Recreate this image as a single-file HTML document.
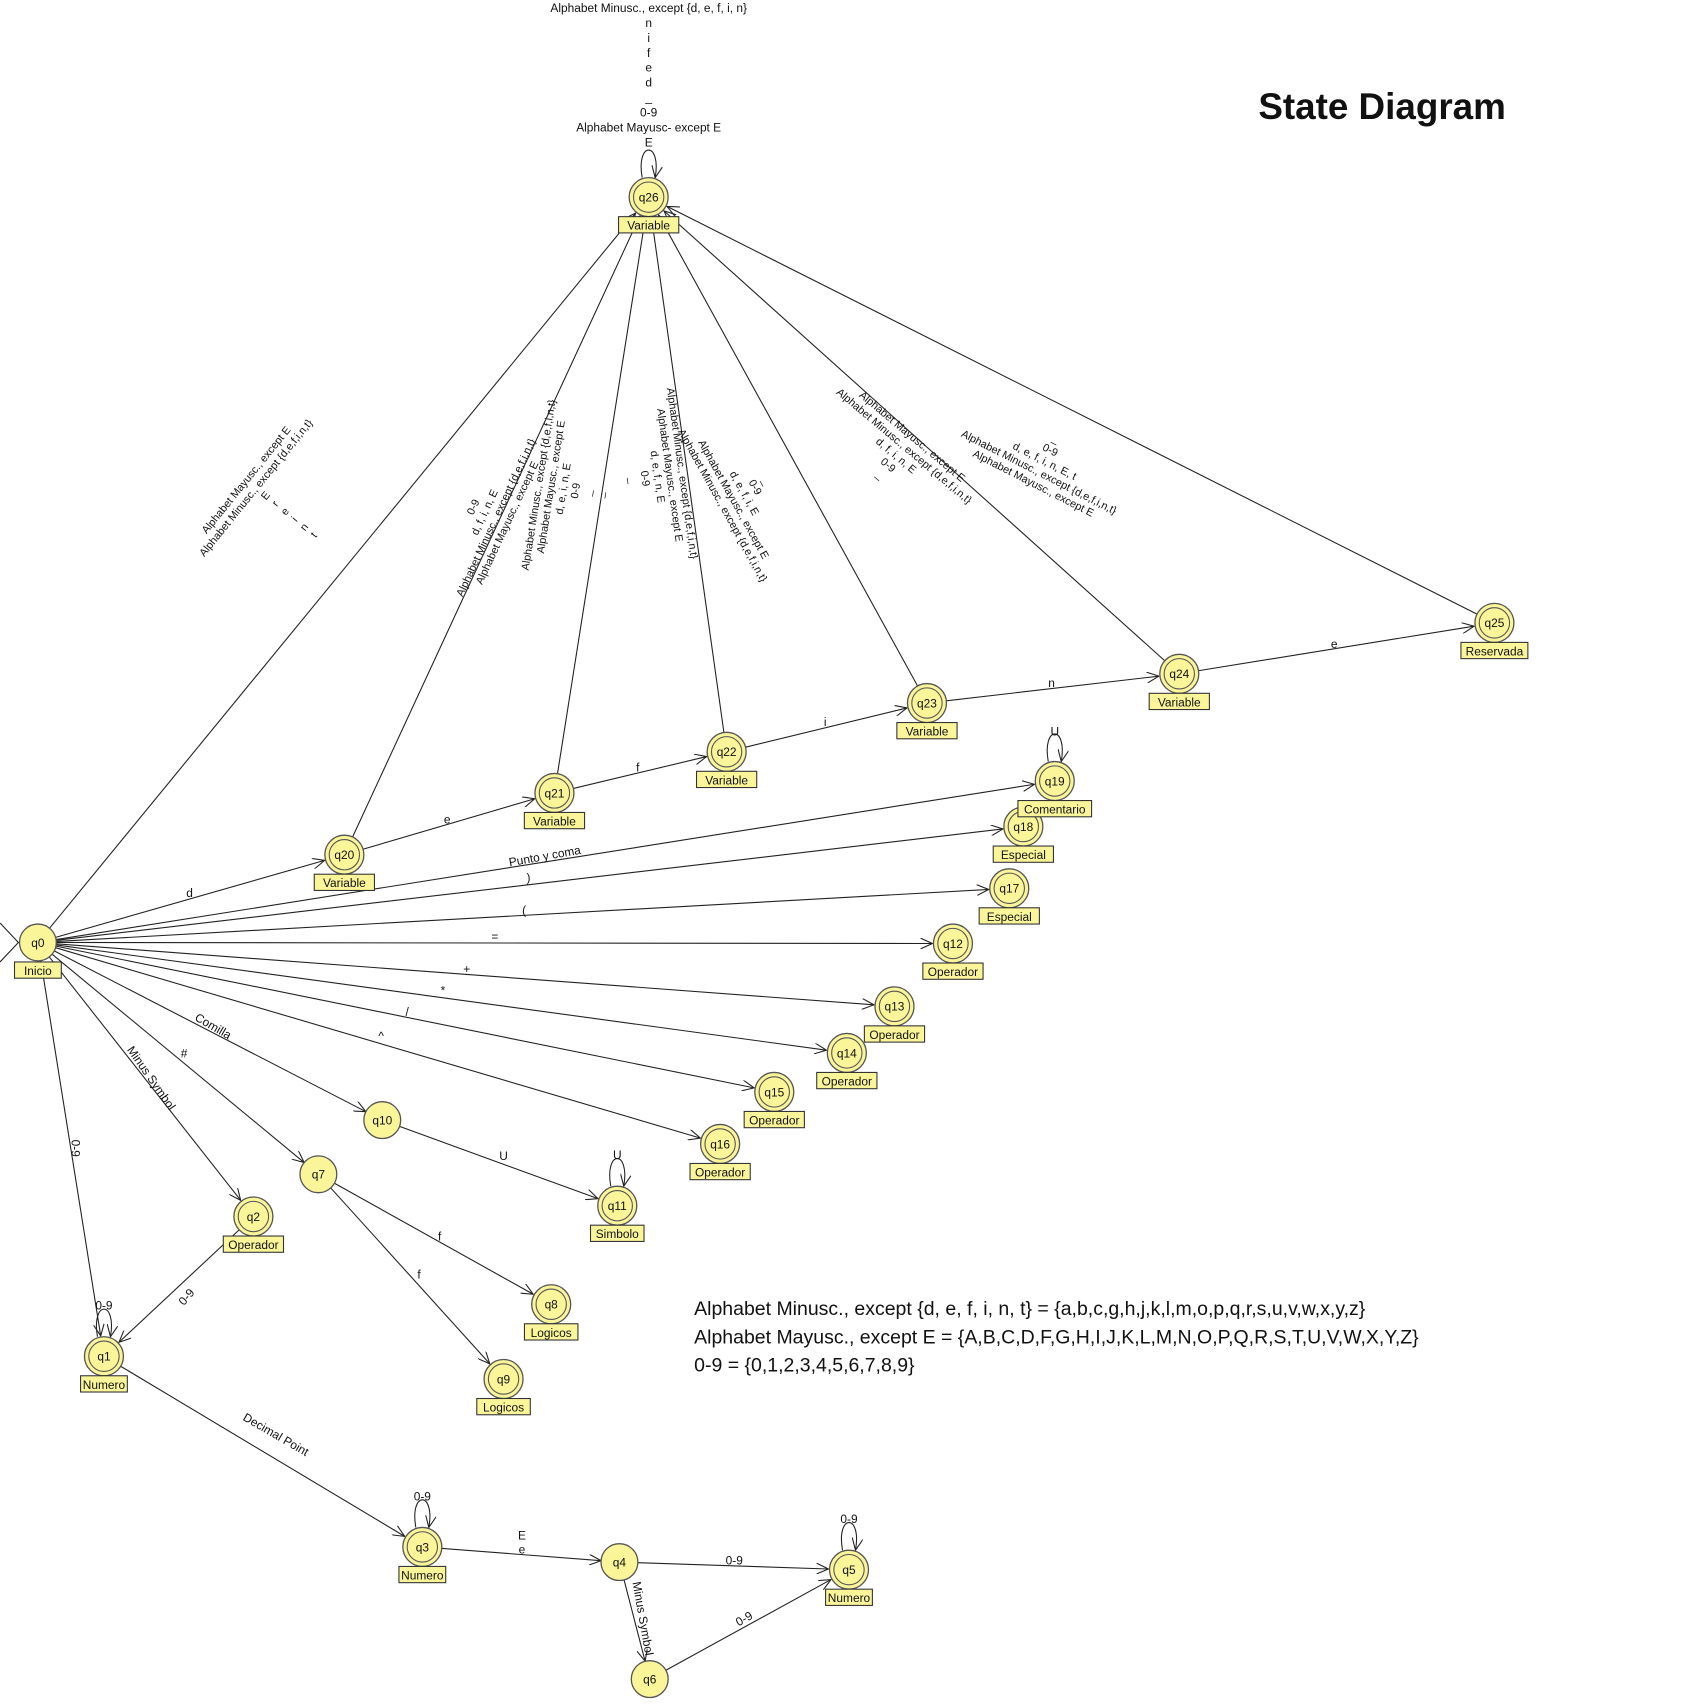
<!DOCTYPE html>
<html><head><meta charset="utf-8"><style>
html,body{margin:0;padding:0;background:#fff;}
svg{display:block;}
text{font-family:"Liberation Sans",Arial,sans-serif;fill:#111;}
</style></head><body>
<svg id="dg" width="1698" height="1704" viewBox="0 0 1568 1573" preserveAspectRatio="none" xmlns="http://www.w3.org/2000/svg">
<defs><marker id="arr" markerWidth="12" markerHeight="10" refX="11" refY="5" orient="auto" markerUnits="userSpaceOnUse"><path d="M0,0 L11,5 L0,10" fill="none" stroke="#222" stroke-width="1"/></marker></defs>
<text x="1162" y="110" font-size="34" font-weight="bold">State Diagram</text>
<g font-size="18">
<text x="641" y="1214" font-size="18">Alphabet Minusc., except {d, e, f, i, n, t} = {a,b,c,g,h,j,k,l,m,o,p,q,r,s,u,v,w,x,y,z}</text>
<text x="641" y="1240" font-size="18">Alphabet Mayusc., except E = {A,B,C,D,F,G,H,I,J,K,L,M,N,O,P,Q,R,S,T,U,V,W,X,Y,Z}</text>
<text x="641" y="1266" font-size="18">0-9 = {0,1,2,3,4,5,6,7,8,9}</text>
</g>
</svg>
<script>
const nodeIds=["q0","q1","q2","q3","q4","q5","q6","q7","q8","q9","q10","q11","q12","q13","q14","q15","q16","q17","q18","q19","q20","q21","q22","q23","q24","q25","q26"];
const nodeX=[35,96,234,390,572,784,600,294,509,465,353,570,880,826,782,715,665,932,945,974,318,512,671,856,1089,1380,599];
const nodeY=[870,1252,1123,1428,1442,1449,1550,1084,1204,1273,1034,1113,871,929,972,1008,1056,820,763,721,789,732,694,649,622,575,182];
const nodeTags=["Inicio","Numero","Operador","Numero","","Numero","","","Logicos","Logicos","","Simbolo","Operador","Operador","Operador","Operador","Operador","Especial","Especial","Comentario","Variable","Variable","Variable","Variable","Variable","Reservada","Variable"];
const nodeAccept=[0,1,1,1,0,1,0,0,1,1,0,1,1,1,1,1,1,1,1,1,1,1,1,1,1,1,1];
const edgeFrom=["q0","q0","q0","q0","q0","q0","q0","q0","q0","q0","q0","q0","q0","q0","q0","q20","q21","q22","q23","q24","q2","q7","q7","q10","q1","q3","q4","q4","q6","q0","q20","q21","q22","q23","q24","q25"];
const edgeTo=["q20","q19","q18","q17","q12","q13","q14","q15","q16","q10","q7","q2","q1","q26","q26","q21","q22","q23","q24","q25","q1","q8","q9","q11","q3","q4","q5","q6","q5","q26","q26","q26","q26","q26","q26","q26"];
const loops=["q26","q19","q11","q1","q3","q5"];
const R=17;
const svg=document.getElementById('dg');
const NS='http://www.w3.org/2000/svg';
function idx(id){return nodeIds.indexOf(id);}
function mk(t,a){const e=document.createElementNS(NS,t);for(const k in a)e.setAttribute(k,a[k]);return e;}
const gE=mk('g',{});svg.appendChild(gE);
const init=mk('path',{d:'M0,852 L17,870 L0,888',fill:'none',stroke:'#222','stroke-width':1});


gE.appendChild(init);
const seen={};
for(let i=0;i<edgeFrom.length;i++){
 const a=idx(edgeFrom[i]),b=idx(edgeTo[i]);const k=edgeFrom[i]+edgeTo[i];if(seen[k])continue;seen[k]=1;
 const x1=nodeX[a],y1=nodeY[a],x2=nodeX[b],y2=nodeY[b];const dx=x2-x1,dy=y2-y1,L=Math.hypot(dx,dy);
 const ux=dx/L,uy=dy/L;const r2=nodeAccept[b]?R+2:R;
 const ln=mk('line',{x1:x1+ux*R,y1:y1+uy*R,x2:x2-ux*r2,y2:y2-uy*r2,stroke:'#222','stroke-width':1,'marker-end':'url(#arr)'});
 
 
 gE.appendChild(ln);
}
for(const id of loops){const i=idx(id);const x=nodeX[i],y=nodeY[i];
 const p=mk('path',{d:`M${x-6},${y-R-1} C${x-12},${y-R-35} ${x+12},${y-R-35} ${x+6},${y-R-1}`,fill:'none',stroke:'#222','stroke-width':1,'marker-end':'url(#arr)'});
 
 
 gE.appendChild(p);}
const gN=mk('g',{});svg.appendChild(gN);
for(let i=0;i<nodeIds.length;i++){const x=nodeX[i],y=nodeY[i];
 const g=mk('g',{});
 
 
 g.appendChild(mk('circle',{cx:x,cy:y,r:nodeAccept[i]?R+1:R,fill:'#fbf59a',stroke:'#555','stroke-width':1.2}));
 if(nodeAccept[i])g.appendChild(mk('circle',{cx:x,cy:y,r:R-3,fill:'#fbf59a',stroke:'#555','stroke-width':1}));
 const t=mk('text',{x:x,y:y+4,'text-anchor':'middle','font-size':11});t.textContent=nodeIds[i];g.appendChild(t);
 if(nodeTags[i]){const w=nodeTags[i].length*6.2+6;
  g.appendChild(mk('rect',{x:x-w/2,y:y+R+1,width:w,height:15,fill:'#fbf59a',stroke:'#333','stroke-width':1}));
  const tt=mk('text',{x:x,y:y+R+13,'text-anchor':'middle','font-size':11});tt.textContent=nodeTags[i];g.appendChild(tt);}
 gN.appendChild(g);}
const MI="Alphabet Minusc., except {d,e,f,i,n,t}",MA="Alphabet Mayusc., except E";
// [x,y,angle,fontSize,lines]
const labels=[
[599,7,0,11,["Alphabet Minusc., except {d, e, f, i, n}","n","i","f","e","d","_","0-9","Alphabet Mayusc- except E","E"]],
[258,468,-51,10,[MA,MI,"E","r","e","i","n","t"]],
[452,475,-65,10,["0-9","d, f, i, n, E",MI,MA]],
[525,452,-81,10,[MI,MA,"d, e, i, n, E","0-9","_","_"]],
[608,440,82,10,[MI,MA,"d, e, f, n, E","0-9","_"]],
[688,455,61,10,["_","0-9","d, e, f, i, E",MA,MI]],
[828,420,40,10,[MA,MI,"d, f, i, n, E","0-9","_"]],
[965,425,27,10,["_","0-9","d, e, f, i, n, E, t",MI,MA]],
[175,824,0,11,["d"]],[413,756,0,11,["e"]],[589,708,0,11,["f"]],[762,666,0,11,["i"]],[971,630,0,11,["n"]],[1232,594,0,11,["e"]],
[503,790,-10,11,["Punto y coma"]],[488,810,0,11,[")"]],[484,840,0,11,["("]],[457,864,0,11,["="]],[431,894,0,11,["+"]],[409,914,0,11,["*"]],[376,934,0,11,["/"]],[352,956,0,11,["^"]],
[197,947,30,11,["Comilla"]],[170,972,0,11,["#"]],[140,995,55,11,["Minus Symbol"]],[70,1060,90,11,["0-9"]],[172,1197,-50,11,["0-9"]],
[465,1067,0,11,["U"]],[570,1066,0,11,["U"]],[974,675,0,11,["U"]],[406,1141,0,11,["f"]],[387,1176,0,11,["f"]],[96,1205,0,11,["0-9"]],
[255,1324,30,11,["Decimal Point"]],[390,1381,0,11,["0-9"]],[482,1417,0,11,["E"]],[482,1430,0,11,["e"]],[678,1440,0,11,["0-9"]],
[784,1402,0,11,["0-9"]],[594,1494,80,11,["Minus Symbol"]],[687,1494,-30,11,["0-9"]]];
const gL=mk('g',{});svg.appendChild(gL);
labels.forEach((l,j)=>{const[x,y,a,fs,lines]=l;const n=lines.length;const lh=(j===0)?13.8:(fs===10?11.5:13.5);
 const g=mk('g',{transform:`translate(${x},${y}) rotate(${a})`});
 
 
 const off=(j===0)?0:-(n-1)*lh/2;
 lines.forEach((s,k)=>{const t=mk('text',{x:0,y:off+k*lh+4,'text-anchor':'middle','font-size':fs});t.textContent=s;g.appendChild(t);});
 gL.appendChild(g);});
</script>
</body></html>
